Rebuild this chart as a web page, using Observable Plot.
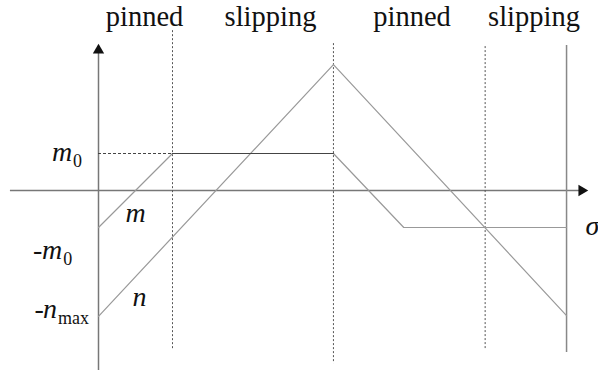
<!DOCTYPE html>
<html>
<head>
<meta charset="utf-8">
<script src="https://cdn.jsdelivr.net/npm/d3@7"></script>
<script src="https://cdn.jsdelivr.net/npm/@observablehq/plot@0.6"></script>
<style>
  html, body { margin: 0; padding: 0; background: #fff; }
  #chart svg { display: block; }
</style>
</head>
<body>
<div id="chart"></div>
<script>
// Moment m and axial force n against σ through pinned / slipping phases
const mSigma = [0, 2, 6.35, 8.25, 12.65];
const mValue = [-1, 1, 1, -1, -1];
const nSigma = [0, 6.35, 12.65];
const nValue = [-3.4, 3.4, -3.38];

// phase boundaries on the σ axis
const boundarySigma = [2, 6.35, 10.45];
const boundaryTop = [4.32, 3.97, 3.89];
const boundaryBottom = [-4.32, -4.68, -4.32];
const endSigma = 12.65;

// phase names along the top
const phaseNames = ["pinned", "slipping", "pinned", "slipping"];
const phaseCenters = [1.243, 4.649, 8.473, 11.77];

// m0 level
const m0 = 1;

const mLine = mSigma.map((s, i) => ({s, v: mValue[i]}));
const nLine = nSigma.map((s, i) => ({s, v: nValue[i]}));
const mPlateau = mLine.filter(d => d.v === m0 && d.s > 0);
const boundaries = boundarySigma.map((s, i) => ({s, y1: boundaryTop[i], y2: boundaryBottom[i]}));
const phases = phaseNames.map((name, i) => ({name, s: phaseCenters[i]}));

const serif = "'Liberation Serif', 'DejaVu Serif', serif";
const ink = "#111";
const main = {fontFamily: serif, fill: ink, fontSize: 28, textAnchor: "start"};
const sub = {fontFamily: serif, fill: ink, fontSize: 18, textAnchor: "start"};

const chart = Plot.plot({
  width: 598,
  height: 370,
  margin: 0,
  style: {fontFamily: serif},
  x: {domain: [-98 / 37, 500 / 37], axis: null},
  y: {domain: [-180 / 37, 190 / 37], axis: null},
  marks: [
    // axes with arrowheads
    Plot.ruleY([0], {x1: -2.38, x2: 13.05, stroke: "#777", strokeWidth: 1.5}),
    Plot.ruleX([0], {y1: -4.9, y2: 3.8, stroke: "#777", strokeWidth: 1.5}),
    Plot.dot([{s: 13.06, v: 0}], {x: "s", y: "v", symbol: "triangle", r: 4.2, fill: "#111", stroke: null, rotate: 90}),
    Plot.dot([{s: 0, v: 3.79}], {x: "s", y: "v", symbol: "triangle", r: 4.2, fill: "#111", stroke: null}),
    // phase boundaries
    Plot.ruleX(boundaries, {x: "s", y1: "y1", y2: "y2", stroke: "#555", strokeWidth: 1, strokeDasharray: "2,2"}),
    Plot.ruleX([endSigma], {y1: 3.92, y2: -4.38, stroke: "#888", strokeWidth: 1.5}),
    // m0 guide
    Plot.ruleY([m0], {x1: 0, x2: boundarySigma[0], stroke: "#444", strokeWidth: 1, strokeDasharray: "3,2"}),
    // curves
    Plot.line(nLine, {x: "s", y: "v", stroke: "#999", strokeWidth: 1.2}),
    Plot.line(mLine, {x: "s", y: "v", stroke: "#999", strokeWidth: 1.2}),
    Plot.line(mPlateau, {x: "s", y: "v", stroke: "#444", strokeWidth: 1.2}),
    // phase names
    Plot.text(phases, {x: "s", y: 4.68, text: "name", fontSize: 28.5, fontFamily: serif, fill: ink}),
    // m0
    Plot.text(["m"], {x: -1.257, y: 1.03, text: d => d, fontStyle: "italic", ...main}),
    Plot.text(["0"], {x: -0.689, y: 1.03, dy: 8.6, text: d => d, ...sub}),
    // -m0
    Plot.text(["-"], {x: -1.77, y: -1.62, text: d => d, ...main}),
    Plot.text(["m"], {x: -1.527, y: -1.62, text: d => d, fontStyle: "italic", ...main}),
    Plot.text(["0"], {x: -0.955, y: -1.62, dy: 8.6, text: d => d, ...sub}),
    // -n_max
    Plot.text(["-"], {x: -1.73, y: -3.21, text: d => d, ...main}),
    Plot.text(["n"], {x: -1.5, y: -3.21, text: d => d, fontStyle: "italic", ...main}),
    Plot.text(["max"], {x: -1.095, y: -3.21, dy: 8.8, text: d => d, ...sub}),
    // curve names and σ
    Plot.text(["m"], {x: 1.0, y: -0.62, text: d => d, fontSize: 28, fontStyle: "italic", fontFamily: serif, fill: ink}),
    Plot.text(["n"], {x: 1.11, y: -2.89, text: d => d, fontSize: 28, fontStyle: "italic", fontFamily: serif, fill: ink}),
    Plot.text(["σ"], {x: 13.16, y: -0.97, text: d => d, fontStyle: "italic", ...main})
  ]
});

document.getElementById("chart").appendChild(chart);
</script>
</body>
</html>
